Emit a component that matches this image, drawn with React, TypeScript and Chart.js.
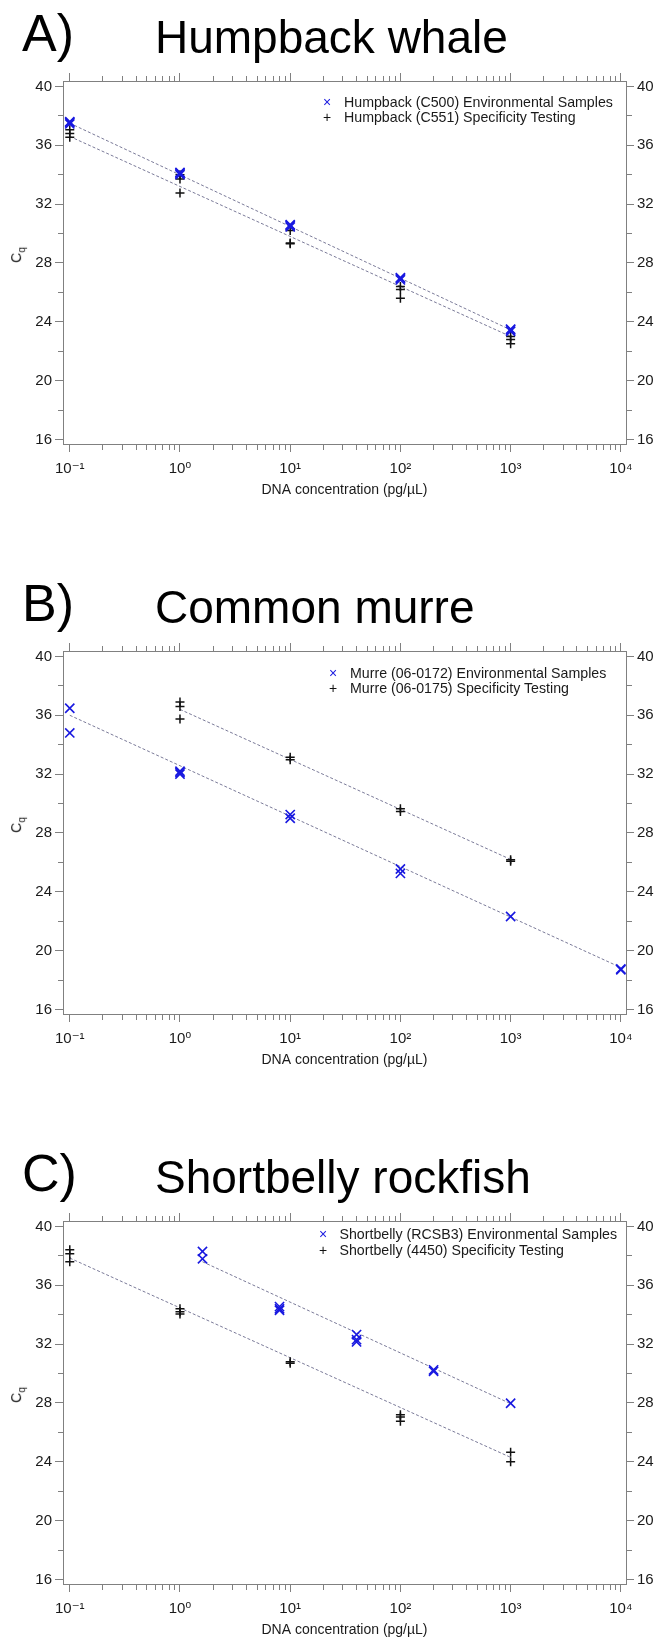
import React, { useEffect, useRef } from "react";
import { Chart, registerables } from "chart.js";
Chart.register(...registerables);

// ---------------- Data ----------------
// A) Humpback whale
const humpbackEnvConc = [0.1, 0.1, 0.1, 1, 1, 1, 10, 10, 10, 100, 100, 100, 1000, 1000, 1000];
const humpbackEnvCq = [37.45, 37.55, 37.6, 34.0, 34.1, 34.15, 30.45, 30.55, 30.6, 26.85, 26.95, 27.0, 23.35, 23.45, 23.5];
const humpbackSpecConc = [0.1, 0.1, 0.1, 1, 1, 1, 10, 10, 10, 100, 100, 100, 1000, 1000, 1000];
const humpbackSpecCq = [37.05, 36.8, 36.55, 34.0, 33.7, 32.75, 30.2, 29.35, 29.3, 26.4, 26.2, 25.6, 23.0, 22.8, 22.5];
const humpbackEnvFitConc = [0.1, 1000];
const humpbackEnvFitCq = [37.5, 23.45];
const humpbackSpecFitConc = [0.1, 1000];
const humpbackSpecFitCq = [36.6, 23.0];

// B) Common murre
const murreEnvConc = [0.1, 0.1, 1, 1, 1, 10, 10, 100, 100, 1000, 10000, 10000];
const murreEnvCq = [36.48, 34.8, 32.2, 32.1, 32.0, 29.25, 29.0, 25.55, 25.25, 22.32, 18.7, 18.75];
const murreSpecConc = [1, 1, 1, 10, 10, 100, 100, 1000, 1000];
const murreSpecCq = [36.9, 36.6, 35.75, 33.15, 32.98, 29.65, 29.45, 26.18, 26.08];
const murreEnvFitConc = [0.1, 10000];
const murreEnvFitCq = [36.0, 18.85];
const murreSpecFitConc = [1, 1000];
const murreSpecFitCq = [36.4, 26.2];

// C) Shortbelly rockfish
const shortbellyEnvConc = [1.6, 1.6, 8, 8, 8, 40, 40, 40, 200, 200, 1000];
const shortbellyEnvCq = [38.3, 37.8, 34.55, 34.4, 34.3, 32.65, 32.3, 32.15, 30.25, 30.15, 27.98];
const shortbellySpecConc = [0.1, 0.1, 0.1, 1, 1, 1, 10, 10, 100, 100, 100, 1000, 1000];
const shortbellySpecCq = [38.42, 38.15, 37.6, 34.4, 34.2, 34.05, 30.8, 30.7, 27.2, 27.05, 26.75, 24.65, 24.0];
const shortbellyEnvFitConc = [1.6, 1000];
const shortbellyEnvFitCq = [37.6, 27.95];
const shortbellySpecFitConc = [0.1, 1000];
const shortbellySpecFitCq = [37.85, 24.3];

// Axis ticks
const cqTicks = [16, 18, 20, 22, 24, 26, 28, 30, 32, 34, 36, 38, 40];
const cqLabelled = [16, 20, 24, 28, 32, 36, 40];
const concTicks = [
  0.1, 0.2, 0.3, 0.4, 0.5, 0.6, 0.7, 0.8, 0.9,
  1, 2, 3, 4, 5, 6, 7, 8, 9,
  10, 20, 30, 40, 50, 60, 70, 80, 90,
  100, 200, 300, 400, 500, 600, 700, 800, 900,
  1000, 2000, 3000, 4000, 5000, 6000, 7000, 8000, 9000,
  10000,
];
const concMajor = [0.1, 1, 10, 100, 1000, 10000];
const concMajorLabels = ["10⁻¹", "10⁰", "10¹", "10²", "10³", "10⁴"];
const cqRange = [15.69, 40.37];
const concRange = [0.0868, 11140];

// ---------------- Styling ----------------
const FONT = "'Liberation Sans', Arial, Helvetica, 'DejaVu Sans', sans-serif";
const BLUE = "#1818e0";
const BLACK = "#111111";
const FIT = "#7a7a98";
const FRAME = "#808080";
const TEXT = "#1a1a1a";
const CANVAS_W = 657;
const CANVAS_H = 502;
const AREA = { left: 63, right: 626, top: 81, bottom: 444 };

const isMinorX = (v: number) => !concMajor.some((m) => Math.abs(m - v) / m < 1e-6);
const isMinorY = (v: number) => !cqLabelled.includes(v);

function grid(isMinor: (v: number) => boolean, outerFirst: boolean) {
  return {
    display: true,
    drawOnChartArea: false,
    drawTicks: true,
    tickLength: 8,
    tickColor: FRAME,
    tickWidth: 1,
    color: FRAME,
    tickBorderDash: (ctx: any) => (ctx.tick && isMinor(ctx.tick.value) ? [5, 3] : []),
    tickBorderDashOffset: (ctx: any) => (outerFirst && ctx.tick && isMinor(ctx.tick.value) ? 5 : 0),
  };
}
const border = { display: true, color: FRAME, width: 1 };

const pts = (xs: number[], ys: number[]) => xs.map((x, i) => ({ x, y: ys[i] }));

type PanelSpec = {
  top: number;
  letter: string;
  name: string;
  envLabel: string;
  specLabel: string;
  envConc: number[];
  envCq: number[];
  specConc: number[];
  specCq: number[];
  envFitConc: number[];
  envFitCq: number[];
  specFitConc: number[];
  specFitCq: number[];
  legendMarkerX: number;
  legendTextX: number;
  legendY: number;
  legendGap: number;
};

const panels: PanelSpec[] = [
  {
    top: 0,
    letter: "A)",
    name: "Humpback whale",
    envLabel: "Humpback (C500) Environmental Samples",
    specLabel: "Humpback (C551) Specificity Testing",
    envConc: humpbackEnvConc,
    envCq: humpbackEnvCq,
    specConc: humpbackSpecConc,
    specCq: humpbackSpecCq,
    envFitConc: humpbackEnvFitConc,
    envFitCq: humpbackEnvFitCq,
    specFitConc: humpbackSpecFitConc,
    specFitCq: humpbackSpecFitCq,
    legendMarkerX: 327,
    legendTextX: 344,
    legendY: 102,
    legendGap: 14.5,
  },
  {
    top: 570,
    letter: "B)",
    name: "Common murre",
    envLabel: "Murre (06-0172) Environmental Samples",
    specLabel: "Murre (06-0175) Specificity Testing",
    envConc: murreEnvConc,
    envCq: murreEnvCq,
    specConc: murreSpecConc,
    specCq: murreSpecCq,
    envFitConc: murreEnvFitConc,
    envFitCq: murreEnvFitCq,
    specFitConc: murreSpecFitConc,
    specFitCq: murreSpecFitCq,
    legendMarkerX: 333,
    legendTextX: 350,
    legendY: 102.5,
    legendGap: 15,
  },
  {
    top: 1140,
    letter: "C)",
    name: "Shortbelly rockfish",
    envLabel: "Shortbelly (RCSB3) Environmental Samples",
    specLabel: "Shortbelly (4450) Specificity Testing",
    envConc: shortbellyEnvConc,
    envCq: shortbellyEnvCq,
    specConc: shortbellySpecConc,
    specCq: shortbellySpecCq,
    envFitConc: shortbellyEnvFitConc,
    envFitCq: shortbellyEnvFitCq,
    specFitConc: shortbellySpecFitConc,
    specFitCq: shortbellySpecFitCq,
    legendMarkerX: 323,
    legendTextX: 339.5,
    legendY: 93.5,
    legendGap: 16,
  },
];

function makeConfig(p: PanelSpec): any {
  const xTickBuild = (s: any) => {
    s.ticks = concTicks.map((v) => ({ value: v }));
  };
  const yTickBuild = (s: any) => {
    s.ticks = cqTicks.map((v) => ({ value: v }));
  };
  const xLabel = (v: any) => {
    const i = concMajor.findIndex((m) => Math.abs(m - Number(v)) / m < 1e-6);
    return i >= 0 ? concMajorLabels[i] : "";
  };
  const yLabel = (v: any) => (cqLabelled.includes(Number(v)) ? String(v) : "");
  const tickFont = { family: FONT, size: 15 };
  return {
    type: "scatter",
    data: {
      datasets: [
        {
          label: p.envLabel,
          data: pts(p.envConc, p.envCq),
          pointStyle: "crossRot",
          pointRadius: 6.5,
          pointBorderWidth: 1.6,
          borderColor: BLUE,
          backgroundColor: BLUE,
          showLine: false,
          order: 1,
        },
        {
          label: p.specLabel,
          data: pts(p.specConc, p.specCq),
          pointStyle: "cross",
          pointRadius: 4.5,
          pointBorderWidth: 1.5,
          borderColor: BLACK,
          backgroundColor: BLACK,
          showLine: false,
          order: 1,
        },
        {
          label: "fit env",
          data: pts(p.envFitConc, p.envFitCq),
          showLine: true,
          pointRadius: 0,
          borderColor: FIT,
          borderWidth: 1,
          borderDash: [3, 2],
          order: 2,
        },
        {
          label: "fit spec",
          data: pts(p.specFitConc, p.specFitCq),
          showLine: true,
          pointRadius: 0,
          borderColor: FIT,
          borderWidth: 1,
          borderDash: [3, 2],
          order: 2,
        },
      ],
    },
    options: {
      responsive: false,
      animation: false,
      devicePixelRatio: 1,
      layout: { padding: 0 },
      plugins: { legend: { display: false }, tooltip: { enabled: false }, title: { display: false } },
      scales: {
        x: {
          type: "logarithmic",
          position: "bottom",
          display: true,
          min: concRange[0],
          max: concRange[1],
          afterBuildTicks: xTickBuild,
          afterFit: (s: any) => {
            s.height = CANVAS_H - AREA.bottom;
          },
          grid: grid(isMinorX, false),
          border,
          ticks: {
            autoSkip: false,
            maxRotation: 0,
            minRotation: 0,
            padding: 8,
            font: tickFont,
            color: TEXT,
            callback: xLabel,
          },
          title: {
            display: true,
            text: "DNA concentration (pg/µL)",
            font: { family: FONT, size: 14 },
            color: TEXT,
            padding: { top: 0, bottom: 3.6 },
          },
        },
        xTop: {
          type: "logarithmic",
          position: "top",
          display: true,
          min: concRange[0],
          max: concRange[1],
          afterBuildTicks: xTickBuild,
          afterFit: (s: any) => {
            s.height = AREA.top;
          },
          grid: grid(isMinorX, true),
          border,
          ticks: { display: false, autoSkip: false },
        },
        y: {
          type: "linear",
          position: "left",
          display: true,
          min: cqRange[0],
          max: cqRange[1],
          afterBuildTicks: yTickBuild,
          afterFit: (s: any) => {
            s.width = AREA.left;
          },
          grid: grid(isMinorY, true),
          border,
          ticks: { autoSkip: false, padding: 3, font: tickFont, color: TEXT, callback: yLabel },
        },
        yRight: {
          type: "linear",
          position: "right",
          display: true,
          min: cqRange[0],
          max: cqRange[1],
          afterBuildTicks: yTickBuild,
          afterFit: (s: any) => {
            s.width = CANVAS_W - AREA.right;
          },
          grid: grid(isMinorY, false),
          border,
          ticks: { autoSkip: false, padding: 3, font: tickFont, color: TEXT, callback: yLabel },
        },
      },
    },
  };
}

function Panel({ p }: { p: PanelSpec }) {
  const ref = useRef<HTMLCanvasElement>(null);
  useEffect(() => {
    const chart = new Chart(ref.current as HTMLCanvasElement, makeConfig(p));
    return () => chart.destroy();
  }, [p]);
  const titleStyle: React.CSSProperties = {
    position: "absolute",
    top: p.top + 14,
    fontFamily: FONT,
    fontSize: 46,
    lineHeight: "46px",
    color: "#000",
    whiteSpace: "nowrap",
  };
  const letterStyle: React.CSSProperties = {
    ...titleStyle,
    top: p.top + 7,
    fontSize: 52,
    lineHeight: "52px",
  };
  const legendRow = (y: number, marker: string, color: string, text: string) => (
    <div key={text} style={{ position: "absolute", left: 0, top: p.top + y - 8, height: 16, width: CANVAS_W }}>
      <span
        style={{
          position: "absolute",
          left: p.legendMarkerX,
          top: 0,
          transform: "translateX(-50%)",
          fontFamily: FONT,
          fontSize: 14,
          lineHeight: "16px",
          color,
        }}
      >
        {marker}
      </span>
      <span
        style={{
          position: "absolute",
          left: p.legendTextX,
          top: 0,
          fontFamily: FONT,
          fontSize: 14.2,
          lineHeight: "16px",
          color: TEXT,
          whiteSpace: "nowrap",
        }}
      >
        {text}
      </span>
    </div>
  );
  return (
    <>
      <div style={{ position: "absolute", left: 0, top: p.top, width: CANVAS_W, height: CANVAS_H }}>
        <canvas ref={ref} width={CANVAS_W} height={CANVAS_H} style={{ display: "block" }} />
      </div>
      <div style={{ ...letterStyle, left: 22 }}>{p.letter}</div>
      <div style={{ ...titleStyle, left: 155 }}>{p.name}</div>
      <div
        style={{
          position: "absolute",
          left: 19,
          top: p.top + 255,
          transform: "translate(-50%, -50%) rotate(-90deg)",
          fontFamily: FONT,
          fontSize: 14,
          lineHeight: "16px",
          color: TEXT,
          whiteSpace: "nowrap",
        }}
      >
        C<sub style={{ fontSize: 10 }}>q</sub>
      </div>
      {legendRow(p.legendY, "×", BLUE, p.envLabel)}
      {legendRow(p.legendY + p.legendGap, "+", BLACK, p.specLabel)}
    </>
  );
}

export default function App() {
  return (
    <div style={{ position: "absolute", left: 0, top: 0, width: 657, height: 1642, background: "#fff" }}>
      {panels.map((p) => (
        <Panel key={p.letter} p={p} />
      ))}
    </div>
  );
}
